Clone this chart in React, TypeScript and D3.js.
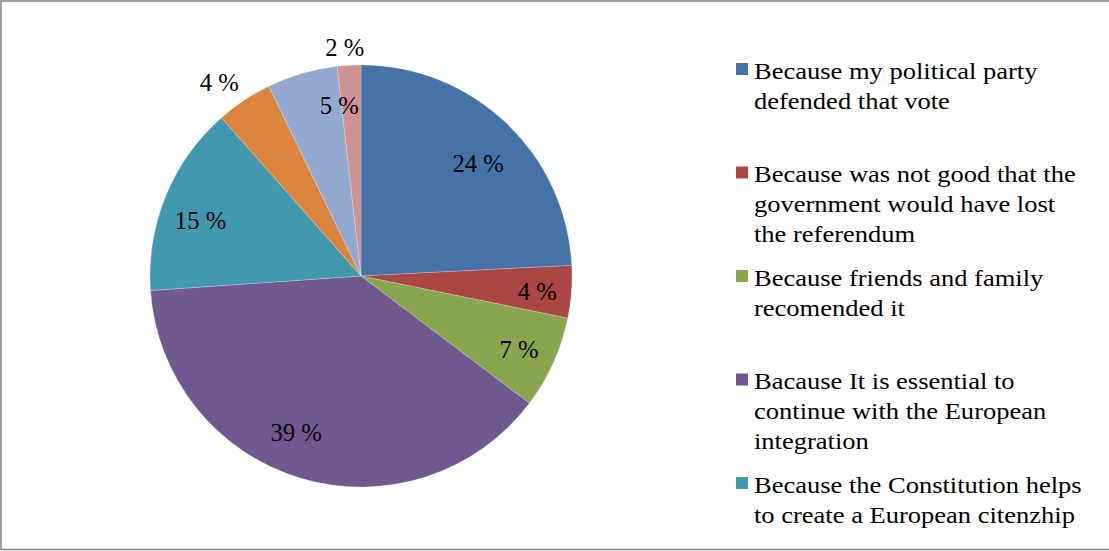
import React from "react";
import * as d3 from "d3";

const sliceValues = [24.2, 4.0, 7.1, 38.6, 14.6, 4.3, 5.4, 1.8];
const sliceLabels = ["24 %", "4 %", "7 %", "39 %", "15 %", "4 %", "5 %", "2 %"];
const sliceColors = ["#4572A7", "#AA4643", "#89A54E", "#71588F", "#4198AF", "#DB843D", "#93A9CF", "#D19392"];
// label placement: [angle nudge in degrees, radius in px]
const labelPlacement: [number, number][] = [
  [2.4, 163], [0.6, 177], [0.5, 174], [6, 169], [-3, 170], [-2.5, 240], [9, 173], [-0.8, 230],
];
const legendLabels: string[][] = [
  ["Because my political party", "defended that vote"],
  ["Because was not good that the", "government would have lost", "the referendum"],
  ["Because friends and family", "recomended it"],
  ["Bacause It is essential to", "continue with the European", "integration"],
  ["Because the Constitution helps", "to create a European citenzhip"],
];

const W = 1109;
const H = 551;
const CX = 361;
const CY = 276;
const R = 211;
const FONT = "'Liberation Serif', 'Times New Roman', serif";

export default function App() {
  const pie = d3.pie<number>().sort(null).value((d) => d);
  const arcs = pie(sliceValues);
  const arcGen = d3.arc<d3.PieArcDatum<number>>().innerRadius(0).outerRadius(R);

  const legendY = d3.scaleLinear().domain([0, 4]).range([70, 484]);

  return (
    <svg
      width={W}
      height={H}
      style={{ position: "fixed", left: 0, top: 0, background: "#fff" }}
      fontFamily={FONT}
    >
      <rect x={1} y={1} width={W + 10} height={548.5} fill="#fff" stroke="#8a8a8a" strokeWidth={1.6} />
      <g transform={`translate(${CX},${CY})`}>
        {arcs.map((a, i) => (
          <path key={i} d={arcGen(a) || ""} fill={sliceColors[i]} stroke="#ffffff" strokeOpacity={0.35} strokeWidth={0.6} />
        ))}
        {arcs.map((a, i) => {
          const mid = (a.startAngle + a.endAngle) / 2 + (labelPlacement[i][0] * Math.PI) / 180;
          const r = labelPlacement[i][1];
          const x = Math.sin(mid) * r;
          const y = -Math.cos(mid) * r;
          return (
            <text
              key={i}
              transform={`translate(${x},${y}) scale(0.95,1)`}
              textAnchor="middle"
              dominantBaseline="central"
              fontSize={26}
              fill="#000"
            >
              {sliceLabels[i]}
            </text>
          );
        })}
      </g>
      <g>
        {legendLabels.map((lines, i) => {
          const y0 = legendY(i);
          return (
            <g key={i}>
              <rect x={736} y={y0 - 7} width={12} height={12} fill={sliceColors[i]} />
              {lines.map((ln, j) => (
                <text
                  key={j}
                  transform={`translate(754,${y0 + j * 30}) scale(1.105,1)`}
                  dominantBaseline="central"
                  fontSize={24}
                  fill="#000"
                >
                  {ln}
                </text>
              ))}
            </g>
          );
        })}
      </g>
    </svg>
  );
}
